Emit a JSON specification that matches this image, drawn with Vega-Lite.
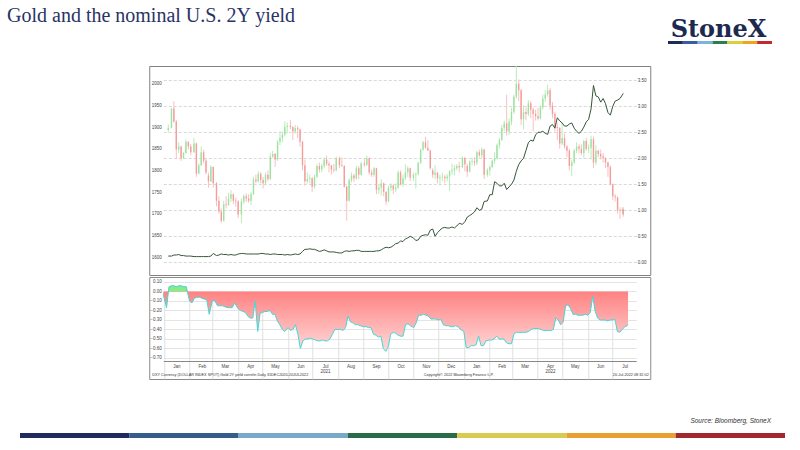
{
  "$schema": "https://vega.github.io/schema/vega-lite/v6.json",
  "padding": {"top": 6, "left": 0, "right": 0, "bottom": 0},
  "background": "white",
  "config": {
    "view": {"stroke": null},
    "font": "Liberation Sans",
    "axis": {"labelFont": "Liberation Sans", "labelColor": "#444444", "labelFontSize": 4.5, "titleFont": "Liberation Sans", "labelOverlap": false}
  },
  "datasets": {
    "px": [
      {"d": "2020-12-31", "o": 1893, "h": 1906, "l": 1888, "c": 1898, "y": 0.12, "r": -0.03},
      {"d": "2021-01-04", "o": 1898, "h": 1944, "l": 1897, "c": 1943, "y": 0.12, "r": -0.17},
      {"d": "2021-01-07", "o": 1943, "h": 1960, "l": 1910, "c": 1913, "y": 0.14, "r": 0.05},
      {"d": "2021-01-10", "o": 1913, "h": 1916, "l": 1826, "c": 1848, "y": 0.14, "r": 0.06},
      {"d": "2021-01-13", "o": 1848, "h": 1865, "l": 1840, "c": 1855, "y": 0.15, "r": 0.06},
      {"d": "2021-01-16", "o": 1855, "h": 1857, "l": 1822, "c": 1828, "y": 0.13, "r": 0.05},
      {"d": "2021-01-19", "o": 1828, "h": 1842, "l": 1826, "c": 1840, "y": 0.13, "r": 0.06},
      {"d": "2021-01-22", "o": 1840, "h": 1872, "l": 1838, "c": 1866, "y": 0.12, "r": 0.06},
      {"d": "2021-01-25", "o": 1866, "h": 1867, "l": 1848, "c": 1855, "y": 0.12, "r": 0.05},
      {"d": "2021-01-28", "o": 1855, "h": 1861, "l": 1835, "c": 1842, "y": 0.12, "r": 0.05},
      {"d": "2021-02-01", "o": 1842, "h": 1875, "l": 1840, "c": 1862, "y": 0.11, "r": -0.10},
      {"d": "2021-02-04", "o": 1862, "h": 1864, "l": 1785, "c": 1793, "y": 0.11, "r": -0.12},
      {"d": "2021-02-07", "o": 1793, "h": 1816, "l": 1791, "c": 1812, "y": 0.11, "r": -0.07},
      {"d": "2021-02-10", "o": 1812, "h": 1855, "l": 1810, "c": 1842, "y": 0.11, "r": -0.06},
      {"d": "2021-02-13", "o": 1842, "h": 1848, "l": 1816, "c": 1822, "y": 0.11, "r": -0.06},
      {"d": "2021-02-16", "o": 1822, "h": 1828, "l": 1790, "c": 1795, "y": 0.11, "r": -0.07},
      {"d": "2021-02-19", "o": 1788, "h": 1795, "l": 1760, "c": 1775, "y": 0.11, "r": -0.08},
      {"d": "2021-02-22", "o": 1775, "h": 1812, "l": 1773, "c": 1808, "y": 0.12, "r": -0.09},
      {"d": "2021-02-25", "o": 1808, "h": 1809, "l": 1760, "c": 1770, "y": 0.17, "r": -0.24},
      {"d": "2021-03-01", "o": 1770, "h": 1773, "l": 1717, "c": 1730, "y": 0.13, "r": -0.09},
      {"d": "2021-03-04", "o": 1730, "h": 1740, "l": 1700, "c": 1705, "y": 0.14, "r": -0.10},
      {"d": "2021-03-07", "o": 1705, "h": 1712, "l": 1678, "c": 1684, "y": 0.16, "r": -0.15},
      {"d": "2021-03-10", "o": 1684, "h": 1730, "l": 1682, "c": 1722, "y": 0.15, "r": -0.15},
      {"d": "2021-03-13", "o": 1722, "h": 1740, "l": 1712, "c": 1720, "y": 0.15, "r": -0.15},
      {"d": "2021-03-16", "o": 1720, "h": 1748, "l": 1718, "c": 1735, "y": 0.14, "r": -0.16},
      {"d": "2021-03-19", "o": 1735, "h": 1755, "l": 1727, "c": 1745, "y": 0.15, "r": -0.17},
      {"d": "2021-03-22", "o": 1745, "h": 1747, "l": 1722, "c": 1730, "y": 0.14, "r": -0.17},
      {"d": "2021-03-25", "o": 1730, "h": 1737, "l": 1716, "c": 1728, "y": 0.14, "r": -0.17},
      {"d": "2021-03-28", "o": 1728, "h": 1732, "l": 1690, "c": 1698, "y": 0.16, "r": -0.12},
      {"d": "2021-04-01", "o": 1698, "h": 1735, "l": 1678, "c": 1728, "y": 0.17, "r": -0.18},
      {"d": "2021-04-04", "o": 1728, "h": 1745, "l": 1722, "c": 1740, "y": 0.17, "r": -0.20},
      {"d": "2021-04-07", "o": 1740, "h": 1747, "l": 1727, "c": 1735, "y": 0.16, "r": -0.21},
      {"d": "2021-04-10", "o": 1735, "h": 1745, "l": 1725, "c": 1730, "y": 0.16, "r": -0.22},
      {"d": "2021-04-13", "o": 1730, "h": 1750, "l": 1720, "c": 1745, "y": 0.16, "r": -0.26},
      {"d": "2021-04-16", "o": 1745, "h": 1785, "l": 1743, "c": 1779, "y": 0.16, "r": -0.28},
      {"d": "2021-04-19", "o": 1779, "h": 1790, "l": 1770, "c": 1775, "y": 0.16, "r": -0.28},
      {"d": "2021-04-22", "o": 1775, "h": 1798, "l": 1772, "c": 1792, "y": 0.16, "r": -0.10},
      {"d": "2021-04-25", "o": 1792, "h": 1796, "l": 1770, "c": 1778, "y": 0.17, "r": -0.42},
      {"d": "2021-04-28", "o": 1778, "h": 1785, "l": 1758, "c": 1770, "y": 0.17, "r": -0.23},
      {"d": "2021-05-01", "o": 1770, "h": 1795, "l": 1765, "c": 1790, "y": 0.16, "r": -0.22},
      {"d": "2021-05-04", "o": 1790, "h": 1800, "l": 1775, "c": 1780, "y": 0.16, "r": -0.21},
      {"d": "2021-05-07", "o": 1780, "h": 1840, "l": 1778, "c": 1832, "y": 0.15, "r": -0.21},
      {"d": "2021-05-10", "o": 1832, "h": 1845, "l": 1828, "c": 1838, "y": 0.16, "r": -0.20},
      {"d": "2021-05-13", "o": 1838, "h": 1840, "l": 1808, "c": 1825, "y": 0.16, "r": -0.24},
      {"d": "2021-05-16", "o": 1825, "h": 1870, "l": 1822, "c": 1866, "y": 0.15, "r": -0.24},
      {"d": "2021-05-19", "o": 1866, "h": 1890, "l": 1858, "c": 1875, "y": 0.15, "r": -0.31},
      {"d": "2021-05-22", "o": 1875, "h": 1890, "l": 1865, "c": 1882, "y": 0.15, "r": -0.35},
      {"d": "2021-05-25", "o": 1882, "h": 1913, "l": 1878, "c": 1900, "y": 0.14, "r": -0.40},
      {"d": "2021-05-28", "o": 1900, "h": 1910, "l": 1885, "c": 1903, "y": 0.15, "r": -0.42},
      {"d": "2021-06-01", "o": 1903, "h": 1916, "l": 1895, "c": 1900, "y": 0.14, "r": -0.38},
      {"d": "2021-06-04", "o": 1900, "h": 1902, "l": 1870, "c": 1890, "y": 0.15, "r": -0.41},
      {"d": "2021-06-07", "o": 1890, "h": 1905, "l": 1885, "c": 1898, "y": 0.16, "r": -0.40},
      {"d": "2021-06-10", "o": 1898, "h": 1903, "l": 1875, "c": 1895, "y": 0.15, "r": -0.35},
      {"d": "2021-06-13", "o": 1895, "h": 1896, "l": 1855, "c": 1866, "y": 0.16, "r": -0.45},
      {"d": "2021-06-16", "o": 1866, "h": 1868, "l": 1800, "c": 1812, "y": 0.21, "r": -0.60},
      {"d": "2021-06-19", "o": 1812, "h": 1825, "l": 1765, "c": 1775, "y": 0.25, "r": -0.52},
      {"d": "2021-06-22", "o": 1775, "h": 1795, "l": 1770, "c": 1780, "y": 0.25, "r": -0.50},
      {"d": "2021-06-25", "o": 1780, "h": 1790, "l": 1770, "c": 1782, "y": 0.26, "r": -0.50},
      {"d": "2021-06-28", "o": 1782, "h": 1785, "l": 1750, "c": 1762, "y": 0.25, "r": -0.49},
      {"d": "2021-07-01", "o": 1762, "h": 1790, "l": 1758, "c": 1785, "y": 0.25, "r": -0.50},
      {"d": "2021-07-04", "o": 1785, "h": 1815, "l": 1782, "c": 1810, "y": 0.23, "r": -0.51},
      {"d": "2021-07-07", "o": 1810, "h": 1818, "l": 1795, "c": 1802, "y": 0.21, "r": -0.52},
      {"d": "2021-07-10", "o": 1802, "h": 1815, "l": 1796, "c": 1810, "y": 0.22, "r": -0.52},
      {"d": "2021-07-13", "o": 1810, "h": 1830, "l": 1805, "c": 1825, "y": 0.24, "r": -0.51},
      {"d": "2021-07-16", "o": 1825, "h": 1834, "l": 1810, "c": 1815, "y": 0.22, "r": -0.52},
      {"d": "2021-07-19", "o": 1815, "h": 1820, "l": 1795, "c": 1812, "y": 0.20, "r": -0.52},
      {"d": "2021-07-22", "o": 1812, "h": 1812, "l": 1790, "c": 1802, "y": 0.20, "r": -0.50},
      {"d": "2021-07-25", "o": 1802, "h": 1815, "l": 1795, "c": 1800, "y": 0.20, "r": -0.45},
      {"d": "2021-07-28", "o": 1800, "h": 1832, "l": 1798, "c": 1828, "y": 0.19, "r": -0.40},
      {"d": "2021-08-01", "o": 1828, "h": 1832, "l": 1805, "c": 1812, "y": 0.18, "r": -0.40},
      {"d": "2021-08-04", "o": 1812, "h": 1830, "l": 1808, "c": 1810, "y": 0.18, "r": -0.40},
      {"d": "2021-08-07", "o": 1810, "h": 1812, "l": 1760, "c": 1763, "y": 0.21, "r": -0.41},
      {"d": "2021-08-10", "o": 1763, "h": 1765, "l": 1684, "c": 1730, "y": 0.22, "r": -0.38},
      {"d": "2021-08-13", "o": 1730, "h": 1782, "l": 1728, "c": 1778, "y": 0.21, "r": -0.26},
      {"d": "2021-08-16", "o": 1778, "h": 1795, "l": 1772, "c": 1788, "y": 0.22, "r": -0.32},
      {"d": "2021-08-19", "o": 1788, "h": 1792, "l": 1773, "c": 1782, "y": 0.22, "r": -0.33},
      {"d": "2021-08-22", "o": 1782, "h": 1810, "l": 1778, "c": 1805, "y": 0.23, "r": -0.35},
      {"d": "2021-08-25", "o": 1805, "h": 1810, "l": 1780, "c": 1790, "y": 0.23, "r": -0.35},
      {"d": "2021-08-28", "o": 1790, "h": 1820, "l": 1788, "c": 1816, "y": 0.21, "r": -0.36},
      {"d": "2021-09-01", "o": 1816, "h": 1828, "l": 1808, "c": 1813, "y": 0.21, "r": -0.37},
      {"d": "2021-09-04", "o": 1813, "h": 1834, "l": 1810, "c": 1828, "y": 0.21, "r": -0.37},
      {"d": "2021-09-07", "o": 1828, "h": 1830, "l": 1790, "c": 1795, "y": 0.21, "r": -0.38},
      {"d": "2021-09-10", "o": 1795, "h": 1802, "l": 1785, "c": 1790, "y": 0.21, "r": -0.38},
      {"d": "2021-09-13", "o": 1790, "h": 1808, "l": 1785, "c": 1805, "y": 0.21, "r": -0.45},
      {"d": "2021-09-16", "o": 1805, "h": 1806, "l": 1745, "c": 1755, "y": 0.22, "r": -0.46},
      {"d": "2021-09-19", "o": 1755, "h": 1768, "l": 1745, "c": 1760, "y": 0.22, "r": -0.48},
      {"d": "2021-09-22", "o": 1760, "h": 1780, "l": 1742, "c": 1770, "y": 0.24, "r": -0.47},
      {"d": "2021-09-25", "o": 1770, "h": 1772, "l": 1740, "c": 1750, "y": 0.27, "r": -0.60},
      {"d": "2021-09-28", "o": 1750, "h": 1752, "l": 1720, "c": 1728, "y": 0.29, "r": -0.63},
      {"d": "2021-10-01", "o": 1728, "h": 1765, "l": 1726, "c": 1760, "y": 0.28, "r": -0.58},
      {"d": "2021-10-04", "o": 1760, "h": 1770, "l": 1752, "c": 1765, "y": 0.29, "r": -0.45},
      {"d": "2021-10-07", "o": 1765, "h": 1768, "l": 1745, "c": 1756, "y": 0.32, "r": -0.43},
      {"d": "2021-10-10", "o": 1756, "h": 1770, "l": 1750, "c": 1760, "y": 0.36, "r": -0.44},
      {"d": "2021-10-13", "o": 1760, "h": 1800, "l": 1758, "c": 1795, "y": 0.37, "r": -0.46},
      {"d": "2021-10-16", "o": 1795, "h": 1800, "l": 1765, "c": 1768, "y": 0.41, "r": -0.47},
      {"d": "2021-10-19", "o": 1768, "h": 1790, "l": 1762, "c": 1782, "y": 0.40, "r": -0.47},
      {"d": "2021-10-22", "o": 1782, "h": 1814, "l": 1778, "c": 1795, "y": 0.45, "r": -0.35},
      {"d": "2021-10-25", "o": 1795, "h": 1810, "l": 1785, "c": 1805, "y": 0.47, "r": -0.34},
      {"d": "2021-10-28", "o": 1805, "h": 1806, "l": 1775, "c": 1783, "y": 0.50, "r": -0.36},
      {"d": "2021-11-01", "o": 1783, "h": 1795, "l": 1775, "c": 1790, "y": 0.47, "r": -0.38},
      {"d": "2021-11-04", "o": 1790, "h": 1795, "l": 1758, "c": 1792, "y": 0.42, "r": -0.33},
      {"d": "2021-11-07", "o": 1792, "h": 1820, "l": 1788, "c": 1817, "y": 0.43, "r": -0.25},
      {"d": "2021-11-10", "o": 1817, "h": 1850, "l": 1815, "c": 1848, "y": 0.50, "r": -0.25},
      {"d": "2021-11-13", "o": 1848, "h": 1868, "l": 1845, "c": 1865, "y": 0.52, "r": -0.24},
      {"d": "2021-11-16", "o": 1865, "h": 1877, "l": 1850, "c": 1852, "y": 0.53, "r": -0.25},
      {"d": "2021-11-19", "o": 1852, "h": 1870, "l": 1845, "c": 1846, "y": 0.52, "r": -0.26},
      {"d": "2021-11-22", "o": 1846, "h": 1848, "l": 1802, "c": 1805, "y": 0.62, "r": -0.29},
      {"d": "2021-11-25", "o": 1800, "h": 1805, "l": 1782, "c": 1790, "y": 0.64, "r": -0.29},
      {"d": "2021-11-28", "o": 1790, "h": 1812, "l": 1780, "c": 1795, "y": 0.50, "r": -0.29},
      {"d": "2021-12-01", "o": 1795, "h": 1795, "l": 1770, "c": 1782, "y": 0.57, "r": -0.30},
      {"d": "2021-12-04", "o": 1782, "h": 1790, "l": 1765, "c": 1784, "y": 0.62, "r": -0.29},
      {"d": "2021-12-07", "o": 1784, "h": 1795, "l": 1775, "c": 1785, "y": 0.66, "r": -0.35},
      {"d": "2021-12-10", "o": 1785, "h": 1790, "l": 1770, "c": 1782, "y": 0.67, "r": -0.36},
      {"d": "2021-12-13", "o": 1782, "h": 1792, "l": 1775, "c": 1786, "y": 0.66, "r": -0.36},
      {"d": "2021-12-16", "o": 1786, "h": 1800, "l": 1753, "c": 1798, "y": 0.66, "r": -0.37},
      {"d": "2021-12-19", "o": 1798, "h": 1815, "l": 1790, "c": 1800, "y": 0.68, "r": -0.37},
      {"d": "2021-12-22", "o": 1800, "h": 1812, "l": 1788, "c": 1805, "y": 0.66, "r": -0.36},
      {"d": "2021-12-25", "o": 1805, "h": 1815, "l": 1800, "c": 1810, "y": 0.70, "r": -0.37},
      {"d": "2021-12-28", "o": 1810, "h": 1820, "l": 1795, "c": 1807, "y": 0.75, "r": -0.40},
      {"d": "2022-01-01", "o": 1807, "h": 1832, "l": 1805, "c": 1829, "y": 0.73, "r": -0.42},
      {"d": "2022-01-04", "o": 1829, "h": 1830, "l": 1798, "c": 1814, "y": 0.78, "r": -0.59},
      {"d": "2022-01-07", "o": 1810, "h": 1815, "l": 1785, "c": 1797, "y": 0.87, "r": -0.59},
      {"d": "2022-01-10", "o": 1797, "h": 1823, "l": 1795, "c": 1820, "y": 0.90, "r": -0.57},
      {"d": "2022-01-13", "o": 1820, "h": 1830, "l": 1812, "c": 1821, "y": 0.93, "r": -0.57},
      {"d": "2022-01-16", "o": 1821, "h": 1830, "l": 1810, "c": 1818, "y": 0.97, "r": -0.56},
      {"d": "2022-01-19", "o": 1818, "h": 1845, "l": 1812, "c": 1842, "y": 1.05, "r": -0.47},
      {"d": "2022-01-22", "o": 1842, "h": 1848, "l": 1830, "c": 1835, "y": 1.00, "r": -0.57},
      {"d": "2022-01-25", "o": 1835, "h": 1853, "l": 1828, "c": 1848, "y": 1.02, "r": -0.57},
      {"d": "2022-01-28", "o": 1848, "h": 1850, "l": 1780, "c": 1790, "y": 1.17, "r": -0.52},
      {"d": "2022-02-01", "o": 1790, "h": 1805, "l": 1785, "c": 1800, "y": 1.18, "r": -0.51},
      {"d": "2022-02-04", "o": 1800, "h": 1812, "l": 1788, "c": 1808, "y": 1.30, "r": -0.51},
      {"d": "2022-02-07", "o": 1808, "h": 1825, "l": 1805, "c": 1822, "y": 1.30, "r": -0.50},
      {"d": "2022-02-10", "o": 1822, "h": 1842, "l": 1815, "c": 1828, "y": 1.55, "r": -0.47},
      {"d": "2022-02-13", "o": 1828, "h": 1862, "l": 1825, "c": 1858, "y": 1.52, "r": -0.50},
      {"d": "2022-02-16", "o": 1858, "h": 1875, "l": 1850, "c": 1870, "y": 1.47, "r": -0.50},
      {"d": "2022-02-19", "o": 1870, "h": 1905, "l": 1868, "c": 1898, "y": 1.47, "r": -0.50},
      {"d": "2022-02-22", "o": 1898, "h": 1915, "l": 1890, "c": 1908, "y": 1.52, "r": -0.54},
      {"d": "2022-02-25", "o": 1908, "h": 1975, "l": 1880, "c": 1890, "y": 1.40, "r": -0.55},
      {"d": "2022-02-28", "o": 1890, "h": 1920, "l": 1882, "c": 1912, "y": 1.45, "r": -0.55},
      {"d": "2022-03-03", "o": 1912, "h": 1945, "l": 1905, "c": 1935, "y": 1.50, "r": -0.45},
      {"d": "2022-03-06", "o": 1935, "h": 1975, "l": 1930, "c": 1970, "y": 1.58, "r": -0.43},
      {"d": "2022-03-09", "o": 1970, "h": 2070, "l": 1965, "c": 2000, "y": 1.75, "r": -0.43},
      {"d": "2022-03-12", "o": 2000, "h": 2010, "l": 1960, "c": 1985, "y": 1.88, "r": -0.43},
      {"d": "2022-03-15", "o": 1985, "h": 1988, "l": 1905, "c": 1918, "y": 1.95, "r": -0.43},
      {"d": "2022-03-18", "o": 1918, "h": 1950, "l": 1895, "c": 1935, "y": 2.00, "r": -0.43},
      {"d": "2022-03-21", "o": 1935, "h": 1945, "l": 1915, "c": 1930, "y": 2.15, "r": -0.42},
      {"d": "2022-03-24", "o": 1930, "h": 1962, "l": 1925, "c": 1955, "y": 2.30, "r": -0.40},
      {"d": "2022-03-27", "o": 1955, "h": 1960, "l": 1920, "c": 1940, "y": 2.35, "r": -0.39},
      {"d": "2022-03-30", "o": 1940, "h": 1945, "l": 1890, "c": 1930, "y": 2.33, "r": -0.39},
      {"d": "2022-04-02", "o": 1930, "h": 1940, "l": 1915, "c": 1925, "y": 2.45, "r": -0.39},
      {"d": "2022-04-05", "o": 1925, "h": 1945, "l": 1915, "c": 1920, "y": 2.50, "r": -0.40},
      {"d": "2022-04-08", "o": 1920, "h": 1950, "l": 1918, "c": 1945, "y": 2.50, "r": -0.41},
      {"d": "2022-04-11", "o": 1945, "h": 1975, "l": 1940, "c": 1966, "y": 2.52, "r": -0.41},
      {"d": "2022-04-14", "o": 1966, "h": 1985, "l": 1958, "c": 1975, "y": 2.48, "r": -0.41},
      {"d": "2022-04-17", "o": 1975, "h": 1998, "l": 1970, "c": 1985, "y": 2.46, "r": -0.41},
      {"d": "2022-04-20", "o": 1985, "h": 1990, "l": 1940, "c": 1950, "y": 2.62, "r": -0.40},
      {"d": "2022-04-23", "o": 1950, "h": 1958, "l": 1920, "c": 1930, "y": 2.65, "r": -0.28},
      {"d": "2022-04-26", "o": 1930, "h": 1935, "l": 1890, "c": 1900, "y": 2.58, "r": -0.30},
      {"d": "2022-04-29", "o": 1900, "h": 1910, "l": 1870, "c": 1898, "y": 2.78, "r": -0.35},
      {"d": "2022-05-02", "o": 1898, "h": 1900, "l": 1850, "c": 1862, "y": 2.72, "r": -0.32},
      {"d": "2022-05-05", "o": 1862, "h": 1910, "l": 1858, "c": 1875, "y": 2.68, "r": -0.15},
      {"d": "2022-05-08", "o": 1875, "h": 1885, "l": 1850, "c": 1855, "y": 2.62, "r": -0.14},
      {"d": "2022-05-11", "o": 1855, "h": 1858, "l": 1830, "c": 1845, "y": 2.62, "r": -0.18},
      {"d": "2022-05-14", "o": 1845, "h": 1850, "l": 1800, "c": 1810, "y": 2.66, "r": -0.24},
      {"d": "2022-05-17", "o": 1810, "h": 1825, "l": 1787, "c": 1818, "y": 2.68, "r": -0.24},
      {"d": "2022-05-20", "o": 1818, "h": 1850, "l": 1815, "c": 1845, "y": 2.58, "r": -0.25},
      {"d": "2022-05-23", "o": 1845, "h": 1865, "l": 1840, "c": 1855, "y": 2.52, "r": -0.25},
      {"d": "2022-05-26", "o": 1855, "h": 1860, "l": 1840, "c": 1850, "y": 2.48, "r": -0.25},
      {"d": "2022-05-29", "o": 1850, "h": 1860, "l": 1835, "c": 1840, "y": 2.52, "r": -0.24},
      {"d": "2022-06-01", "o": 1840, "h": 1870, "l": 1828, "c": 1868, "y": 2.60, "r": -0.25},
      {"d": "2022-06-04", "o": 1868, "h": 1875, "l": 1845, "c": 1850, "y": 2.70, "r": -0.22},
      {"d": "2022-06-07", "o": 1850, "h": 1860, "l": 1840, "c": 1852, "y": 2.75, "r": -0.05},
      {"d": "2022-06-10", "o": 1852, "h": 1880, "l": 1825, "c": 1872, "y": 2.95, "r": -0.21},
      {"d": "2022-06-13", "o": 1872, "h": 1878, "l": 1805, "c": 1818, "y": 3.40, "r": -0.28},
      {"d": "2022-06-16", "o": 1818, "h": 1858, "l": 1812, "c": 1845, "y": 3.20, "r": -0.30},
      {"d": "2022-06-19", "o": 1845, "h": 1848, "l": 1830, "c": 1838, "y": 3.18, "r": -0.30},
      {"d": "2022-06-22", "o": 1838, "h": 1848, "l": 1825, "c": 1832, "y": 3.08, "r": -0.30},
      {"d": "2022-06-25", "o": 1832, "h": 1840, "l": 1818, "c": 1828, "y": 3.15, "r": -0.31},
      {"d": "2022-06-28", "o": 1828, "h": 1830, "l": 1805, "c": 1818, "y": 3.05, "r": -0.30},
      {"d": "2022-07-01", "o": 1818, "h": 1820, "l": 1785, "c": 1808, "y": 2.88, "r": -0.30},
      {"d": "2022-07-04", "o": 1808, "h": 1812, "l": 1765, "c": 1768, "y": 2.83, "r": -0.29},
      {"d": "2022-07-07", "o": 1768, "h": 1770, "l": 1732, "c": 1740, "y": 3.00, "r": -0.42},
      {"d": "2022-07-10", "o": 1740, "h": 1745, "l": 1728, "c": 1738, "y": 3.10, "r": -0.43},
      {"d": "2022-07-13", "o": 1738, "h": 1740, "l": 1700, "c": 1708, "y": 3.12, "r": -0.40},
      {"d": "2022-07-16", "o": 1708, "h": 1715, "l": 1688, "c": 1706, "y": 3.15, "r": -0.37},
      {"d": "2022-07-19", "o": 1706, "h": 1715, "l": 1700, "c": 1710, "y": 3.22, "r": -0.36},
      {"d": "2022-07-20", "o": 1710, "h": 1715, "l": 1693, "c": 1698, "y": 3.25, "r": -0.35}
    ]
  },
  "center": true,
  "spacing": 37,
  "resolve": {"scale": {"color": "independent"}},
  "vconcat": [
    {
      "center": true,
      "spacing": 21,
      "resolve": {"scale": {"color": "independent"}},
      "vconcat": [
        {
          "width": 786,
          "height": 3,
          "data": {"values": [{"k": 1}, {"k": 2}, {"k": 3}, {"k": 4}, {"k": 5}, {"k": 6}, {"k": 7}]},
          "title": {
            "text": "Gold and the nominal U.S. 2Y yield",
            "anchor": "start",
            "frame": "group",
            "font": "Liberation Serif",
            "fontSize": 20,
            "fontWeight": "normal",
            "color": "#2a3366",
            "baseline": "alphabetic",
            "offset": 0,
            "dy": 25
          },
          "mark": {"type": "rect"},
          "encoding": {
            "x": {
              "field": "k",
              "type": "ordinal",
              "scale": {"range": [661, 765], "paddingInner": 0, "paddingOuter": 0},
              "axis": {
                "orient": "top",
                "title": "StoneX",
                "labels": false,
                "ticks": false,
                "domain": false,
                "titleFont": "DejaVu Serif",
                "titleFontWeight": "bold",
                "titleFontSize": 24,
                "titleColor": "#1b2a4e",
                "titleX": 711,
                "titleY": -5,
                "titleAlign": "center",
                "titleBaseline": "alphabetic"
              }
            },
            "color": {
              "field": "k",
              "type": "ordinal",
              "scale": {"domain": [1, 2, 3, 4, 5, 6, 7], "range": ["#1e2b55", "#3b5ba5", "#7db3e0", "#2e7d4e", "#d7d23a", "#f2a41e", "#c22a33"]},
              "legend": null
            }
          }
        },
        {
          "spacing": 0,
          "vconcat": [
            {
              "width": 501,
              "height": 209,
              "view": {"stroke": "#808080", "strokeWidth": 1},
              "data": {"name": "px"},
              "resolve": {"scale": {"y": "independent"}},
              "layer": [
                {
                  "layer": [
                    {
                      "mark": {"type": "rule", "strokeWidth": 1, "clip": true},
                      "encoding": {
                        "x": {
                          "field": "d",
                          "type": "temporal",
                          "scale": {"domain": [{"year": 2020, "month": 12, "date": 31}, {"year": 2022, "month": 7, "date": 30}], "range": [14, 487]},
                          "axis": null
                        },
                        "y": {
                          "field": "l",
                          "type": "quantitative",
                          "scale": {"domain": [1558.5, 2040.9], "nice": false, "zero": false},
                          "axis": {
                            "orient": "left",
                            "offset": -14,
                            "values": [1600, 1650, 1700, 1750, 1800, 1850, 1900, 1950, 2000],
                            "tickCount": 30,
                            "format": "d",
                            "labelOverlap": false,
                            "grid": false,
                            "ticks": false,
                            "domain": false,
                            "labelPadding": 2,
                            "title": null
                          }
                        },
                        "y2": {"field": "h"},
                        "color": {"condition": {"test": "datum.c >= datum.o", "value": "#b8ecb8"}, "value": "#f9c0c0"}
                      }
                    },
                    {
                      "mark": {"type": "bar", "width": 1.4, "clip": true},
                      "encoding": {
                        "x": {"field": "d", "type": "temporal"},
                        "y": {"field": "o", "type": "quantitative"},
                        "y2": {"field": "c"},
                        "color": {"condition": {"test": "datum.c >= datum.o", "value": "#9fe29f"}, "value": "#f49c9c"}
                      }
                    }
                  ]
                },
                {
                  "mark": {"type": "line", "color": "#35553a", "strokeWidth": 1},
                  "encoding": {
                    "x": {"field": "d", "type": "temporal"},
                    "y": {
                      "field": "y",
                      "type": "quantitative",
                      "scale": {"domain": [-0.244, 3.775], "nice": false, "zero": false},
                      "axis": {
                        "orient": "right",
                        "offset": -17,
                        "values": [0, 0.5, 1, 1.5, 2, 2.5, 3, 3.5],
                        "tickCount": 30,
                        "format": ".2f",
                        "grid": true,
                        "gridDash": [3, 2],
                        "gridColor": "#cfcfcf",
                        "gridWidth": 0.8,
                        "ticks": false,
                        "domain": false,
                        "labelPadding": 4,
                        "title": null
                      }
                    }
                  }
                }
              ]
            },
            {
              "width": 501,
              "height": 102,
              "view": {"stroke": "#8a8a8a", "strokeWidth": 1},
              "data": {"name": "px"},
              "title": {
                "text": "DXY Currency (DOLLAR INDEX SPOT) Gold 2Y yield correlin  Daily 31DEC2020-20JUL2022",
                "orient": "bottom",
                "anchor": "start",
                "frame": "group",
                "offset": -6.5,
                "dx": 3,
                "font": "Liberation Sans",
                "fontSize": 3.8,
                "fontWeight": "normal",
                "color": "#333333",
                "baseline": "top"
              },
              "layer": [
                {
                  "mark": {
                    "type": "area",
                    "color": {
                      "gradient": "linear",
                      "x1": 0, "y1": 0, "x2": 0, "y2": 1,
                      "stops": [{"offset": 0, "color": "#ff7a7a"}, {"offset": 1, "color": "#ffd9d9"}]
                    }
                  },
                  "encoding": {
                    "x": {
                      "field": "d",
                      "type": "temporal",
                      "scale": {"domain": [{"year": 2020, "month": 12, "date": 31}, {"year": 2022, "month": 7, "date": 30}], "range": [14, 487]},
                      "axis": {
                        "orient": "bottom",
                        "offset": -18,
                        "tickCount": {"interval": "month", "step": 1},
                        "labelExpr": "month(datum.value) == 6 && year(datum.value) == 2021 ? ['Jul', '2021'] : (month(datum.value) == 3 && year(datum.value) == 2022 ? ['Apr', '2022'] : timeFormat(datum.value, '%b'))",
                        "labelOffset": 12.3,
                        "labelPadding": 2,
                        "labelBaseline": "top",
                        "labelLineHeight": 5.5,
                        "labelFlush": false,
                        "ticks": false,
                        "grid": true,
                        "gridColor": "#d8d8d8",
                        "gridWidth": 0.8,
                        "domain": true,
                        "domainColor": "#888888",
                        "title": "Copyright\u00a9 2022 Bloomberg Finance L.P.",
                        "titleX": 309,
                        "titleY": 13.5,
                        "titleAlign": "center",
                        "titleBaseline": "middle",
                        "titleFontSize": 3.8,
                        "titleFontWeight": "normal",
                        "titleColor": "#333333"
                      }
                    },
                    "y": {
                      "field": "r",
                      "type": "quantitative",
                      "scale": {"domain": [-0.7316, 0.1526], "range": [84, 0], "nice": false, "zero": false},
                      "axis": {
                        "orient": "left",
                        "offset": -14,
                        "values": [-0.7, -0.6, -0.5, -0.4, -0.3, -0.2, -0.1, 0, 0.1],
                        "tickCount": 30,
                        "format": ".2f",
                        "labelOverlap": false,
                        "grid": true,
                        "gridColor": "#dddddd",
                        "gridWidth": 0.8,
                        "ticks": false,
                        "domain": false,
                        "labelPadding": 2,
                        "title": "20-Jul-2022 08:32:02",
                        "titleAngle": 0,
                        "titleX": 485,
                        "titleY": 97.5,
                        "titleAlign": "right",
                        "titleBaseline": "middle",
                        "titleFontSize": 3.8,
                        "titleFontWeight": "normal",
                        "titleColor": "#333333"
                      }
                    },
                    "y2": {"datum": 0}
                  }
                },
                {
                  "transform": [{"filter": "datum.r > 0"}],
                  "mark": {"type": "area", "color": "#86ec86"},
                  "encoding": {
                    "x": {"field": "d", "type": "temporal"},
                    "y": {"field": "r", "type": "quantitative"},
                    "y2": {"datum": 0}
                  }
                },
                {
                  "mark": {"type": "line", "color": "#45d6d6", "strokeWidth": 1},
                  "encoding": {
                    "x": {"field": "d", "type": "temporal"},
                    "y": {"field": "r", "type": "quantitative"}
                  }
                }
              ]
            }
          ]
        }
      ]
    },
    {
      "width": 800,
      "height": 5,
      "data": {"values": [{"s": 1}, {"s": 2}, {"s": 3}, {"s": 4}, {"s": 5}, {"s": 6}, {"s": 7}]},
      "title": {
        "text": "Source: Bloomberg, StoneX",
        "anchor": "end",
        "frame": "group",
        "dx": -29,
        "offset": 9,
        "font": "Liberation Sans",
        "fontSize": 6.5,
        "fontStyle": "italic",
        "fontWeight": "normal",
        "color": "#333333"
      },
      "mark": {"type": "rect"},
      "encoding": {
        "x": {"field": "s", "type": "ordinal", "scale": {"range": [20, 785], "paddingInner": 0, "paddingOuter": 0}, "axis": null},
        "color": {
          "field": "s",
          "type": "ordinal",
          "scale": {"domain": [1, 2, 3, 4, 5, 6, 7], "range": ["#1f2a5e", "#365c8c", "#7aa8c8", "#2a6b48", "#d8cc50", "#e8a030", "#a0282e"]},
          "legend": null
        }
      }
    }
  ]
}
